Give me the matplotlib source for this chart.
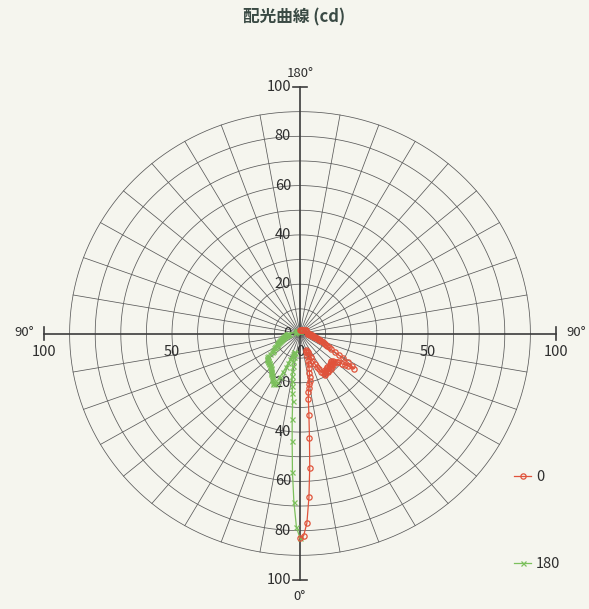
import numpy as np
import matplotlib
matplotlib.use('Agg')
import matplotlib.pyplot as plt

plt.rcParams['font.family'] = ['Noto Sans CJK JP', 'DejaVu Sans']

# Luminous intensity (cd) vs. vertical angle gamma (deg) for the C0 and C180 planes
gamma = list(range(0, 91)) + [100, 110, 120, 130, 140, 150, 160, 170, 180]

cd_c0 = [83.0, 82.0, 77.0, 66.6, 54.5, 42.4, 33.3, 26.6, 23.8, 22.2,
         20.6, 19.5, 18.0, 16.3, 14.6, 13.0, 11.4, 9.5, 8.0, 7.2,
         7.5, 8.2, 9.2, 10.5, 12.0, 13.5, 15.0, 16.3, 17.5, 18.5,
         19.5, 19.0, 18.2, 17.8, 18.5, 19.2, 18.6, 17.6, 17.2, 18.0,
         18.8, 18.2, 17.4, 17.0, 17.5, 18.2, 17.6, 16.8, 16.5, 17.2,
         17.8, 18.4, 19.0, 20.4, 21.5, 23.0, 25.4, 24.0, 22.0, 19.6,
         17.5, 15.7, 13.5, 12.5, 11.8, 11.2, 10.6, 10.1, 9.5, 8.9,
         8.3, 7.8, 7.3, 6.9, 6.5, 6.1, 5.8, 5.5, 5.3, 5.1,
         4.9, 4.7, 4.5, 4.3, 4.1, 3.9, 3.7, 3.5, 3.3, 3.2,
         3.1, 2.9, 2.7, 2.5, 2.3, 2.0, 1.8, 1.6, 1.4, 1.3]

cd_c180 = [83.0, 78.7, 68.4, 56.3, 43.9, 35.0, 27.4, 24.5, 21.5, 19.5,
           17.5, 15.5, 13.5, 11.5, 9.7, 8.2, 7.8, 8.0, 8.6, 9.6,
           11.0, 12.8, 14.8, 17.0, 19.4, 21.5, 22.6, 23.0, 22.6, 22.1,
           21.7, 21.4, 20.8, 20.3, 20.0, 19.8, 19.2, 18.8, 18.5, 18.2,
           18.0, 17.8, 17.5, 17.4, 17.3, 17.2, 17.1, 17.0, 16.9, 16.8,
           16.8, 16.7, 16.6, 15.9, 15.3, 14.4, 13.4, 12.8, 12.3, 11.8,
           11.3, 11.0, 10.6, 10.3, 10.0, 9.8, 9.5, 9.2, 9.0, 8.7,
           8.5, 8.2, 8.0, 7.7, 7.5, 7.2, 7.0, 6.7, 6.5, 6.2,
           6.0, 5.8, 5.7, 5.5, 5.4, 5.2, 5.0, 4.9, 4.8, 4.6,
           4.4, 2.0, 1.8, 1.7, 1.6, 1.5, 1.4, 1.2, 1.1, 1.0]

ring_values = [10, 20, 30, 40, 50, 60, 70, 80, 90]
spoke_angles = list(range(0, 360, 10))
v_labels_up = [0, 20, 40, 60, 80, 100]
v_labels_down = [20, 40, 60, 80, 100]
h_labels = [-100, -50, 0, 50, 100]

W, H = 589, 609
fig = plt.figure(figsize=(W / 100, H / 100), dpi=100)
fig.patch.set_facecolor('#f5f5ee')
ax = fig.add_axes([44 / W, (H - 580) / H, 512 / W, 493 / H])
ax.set_xlim(-100, 100)
ax.set_ylim(-100, 100)
ax.axis('off')

grid_c = '#5a5a5a'
# concentric rings
t = np.linspace(0, 2 * np.pi, 361)
for r in ring_values:
    ax.plot(r * np.cos(t), r * np.sin(t), color=grid_c, lw=0.55, zorder=1)
# radial spokes
for a in spoke_angles:
    if a % 90 == 0:
        continue
    th = np.radians(a)
    ax.plot([0, 90 * np.cos(th)], [0, 90 * np.sin(th)], color=grid_c, lw=0.55, zorder=1)

# main axes with end ticks
axc = '#3c3c3c'
ax.plot([-100, 100], [0, 0], color=axc, lw=1.2, zorder=2, clip_on=False)
ax.plot([0, 0], [-100, 100], color=axc, lw=1.2, zorder=2, clip_on=False)
for s in (-1, 1):
    ax.plot([s * 100, s * 100], [-2.6, 2.6], color=axc, lw=1.2, clip_on=False)
    ax.plot([-2.7, 2.7], [s * 100, s * 100], color=axc, lw=1.2, clip_on=False)

txt = '#2e2e2e'
fs = 10.5
for v in v_labels_up:
    ax.text(-3.5, v, str(v), ha='right', va='center', fontsize=fs, color=txt)
for v in v_labels_down:
    ax.text(-3.5, -v, str(v), ha='right', va='center', fontsize=fs, color=txt)
for v in h_labels:
    ax.text(v, -7.5, str(abs(v)), ha='center', va='center', fontsize=fs, color=txt)

ax.text(-104, 0.6, '90°', ha='right', va='center', fontsize=9.5, color=txt, clip_on=False)
ax.text(104, 0.6, '90°', ha='left', va='center', fontsize=9.5, color=txt, clip_on=False)
ax.text(0, 105.5, '180°', ha='center', va='center', fontsize=9.5, color=txt, clip_on=False)
ax.text(0, -106.5, '0°', ha='center', va='center', fontsize=9.5, color=txt, clip_on=False)

# convert polar curves to the plane
g = np.radians(gamma)
r0 = np.array(cd_c0)
r180 = np.array(cd_c180)
x0, y0 = r0 * np.sin(g), -r0 * np.cos(g)
x180, y180 = -r180 * np.sin(g), -r180 * np.cos(g)

red = '#e0533b'
green = '#7cc05c'
ax.plot(x180, y180, color=green, lw=0.9, marker='x', ms=3.6, mew=0.9,
        label='180', zorder=3)
ax.plot(x0, y0, color=red, lw=0.9, marker='o', ms=3.8, mfc='none', mec=red,
        mew=0.9, label='0', zorder=4)

handles, labels = ax.get_legend_handles_labels()
leg = fig.legend(handles[::-1], labels[::-1], loc='upper left',
                 bbox_to_anchor=(507 / W, 1 - 463 / H), frameon=False,
                 fontsize=10.5, handlelength=1.15, handletextpad=0.35,
                 labelspacing=5.0, borderpad=0)
for t_ in leg.get_texts():
    t_.set_color(txt)

fig.text(0.5, 1 - 17 / H, '配光曲線 (cd)', ha='center', va='center',
         fontsize=12, fontweight='bold', color='#3a4a44')

fig.savefig('out.png', dpi=100, facecolor=fig.get_facecolor())
